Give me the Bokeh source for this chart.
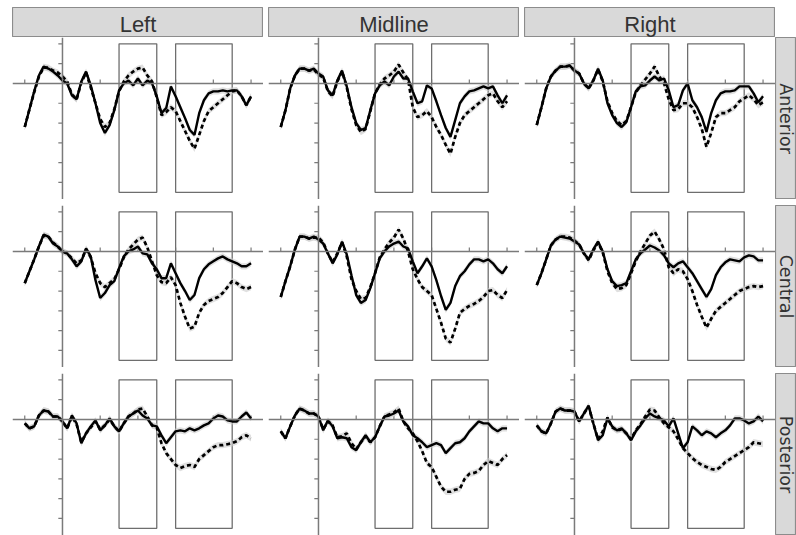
import numpy as np
from bokeh.plotting import figure
from bokeh.layouts import row, column, Spacer
from bokeh.models import Span, Range1d
from bokeh.core.properties import value
from bokeh.embed import file_html
from bokeh.resources import INLINE

# ---------------- data ----------------
times = list(range(-200, 1001, 25))          # ms, 49 samples
column_labels = ["Left", "Midline", "Right"]
row_labels = ["Anterior", "Central", "Posterior"]
x_ticks = [-200, 200, 400, 600, 800, 1000]
y_ticks = [2, 1, -1, -2, -3, -4, -5]
window_start = [300, 600]
window_end = [500, 900]
window_top = [2.0, 2.0]
window_bottom = [-5.5, -5.5]
band_halfwidth = 0.16

left_anterior_solid = [-2.2, -1.3, -0.4, 0.4, 0.85, 0.75, 0.6, 0.4, 0.15, 0.0,
                       -0.6, -0.8, 0.1, 0.6, -0.1, -1.0, -2.0, -2.5, -2.1, -1.35,
                       -0.35, 0.0, 0.15, -0.1, 0.25, -0.1, 0.15, 0.0, -0.65, -1.5,
                       -1.25, -0.15, -0.65, -1.2, -1.75, -2.35, -2.6, -1.5, -0.85, -0.5,
                       -0.4, -0.4, -0.35, -0.4, -0.35, -0.35, -0.65, -1.1, -0.65]
left_anterior_dashed = [-2.2, -1.3, -0.45, 0.35, 0.8, 0.8, 0.65, 0.55, 0.35, 0.1,
                        -0.55, -0.8, 0.05, 0.55, -0.2, -1.0, -1.8, -2.2, -2.0, -1.3,
                        -0.4, 0.1, 0.4, 0.6, 0.75, 0.8, 0.4, 0.1, -0.7, -1.6,
                        -1.45, -1.2, -1.4, -1.9, -2.4, -2.9, -3.3, -2.6, -1.9, -1.4,
                        -1.2, -1.0, -0.8, -0.6, -0.4, -0.35, -0.65, -1.1, -0.65]

midline_anterior_solid = [-2.2, -1.35, -0.25, 0.4, 0.75, 0.75, 0.65, 0.75, 0.5, 0.35,
                          -0.35, -0.6, 0.15, 0.65, -0.15, -1.2, -2.0, -2.35, -2.25, -1.35,
                          -0.5, -0.1, 0.1, -0.1, 0.35, 0.6, 0.25, 0.25, -0.4, -1.0,
                          -0.9, -0.1, -0.25, -0.9, -1.6, -2.25, -2.7, -1.85, -1.0, -0.65,
                          -0.4, -0.35, -0.25, -0.15, -0.25, -0.15, -0.6, -1.0, -0.6]
midline_anterior_dashed = [-2.2, -1.35, -0.25, 0.4, 0.75, 0.75, 0.65, 0.7, 0.45, 0.3,
                           -0.4, -0.65, 0.1, 0.6, -0.2, -1.3, -2.1, -2.45, -2.3, -1.4,
                           -0.5, -0.05, 0.25, 0.4, 0.6, 0.95, 0.55, 0.2, -1.2, -1.7,
                           -1.6, -1.4, -1.7, -2.2, -2.6, -3.1, -3.55, -2.7, -2.0, -1.6,
                           -1.4, -1.2, -1.0, -0.8, -0.6, -0.5, -0.9, -1.2, -0.9]

right_anterior_solid = [-2.1, -1.2, -0.25, 0.35, 0.65, 0.85, 0.85, 0.9, 0.65, 0.5,
                        0.0, -0.25, 0.15, 0.75, 0.15, -1.0, -1.6, -2.0, -2.2, -1.95,
                        -1.2, -0.4, -0.15, -0.1, 0.15, 0.35, 0.15, 0.25, -0.35, -1.2,
                        -1.1, -0.35, 0.0, -0.85, -1.2, -1.7, -2.45, -1.5, -0.85, -0.5,
                        -0.4, -0.4, -0.35, -0.15, -0.15, -0.15, -0.5, -0.95, -0.65]
right_anterior_dashed = [-2.1, -1.2, -0.25, 0.35, 0.65, 0.85, 0.85, 0.9, 0.65, 0.5,
                         0.0, -0.25, 0.15, 0.7, 0.1, -0.9, -1.5, -1.9, -2.1, -1.9,
                         -1.2, -0.45, -0.1, 0.2, 0.5, 0.85, 0.35, 0.0, -0.8, -1.35,
                         -1.3, -1.0, -1.0, -1.2, -1.7, -2.3, -3.2, -2.5, -1.7, -1.5,
                         -1.5, -1.35, -1.2, -0.9, -0.75, -0.6, -0.8, -1.1, -0.95]

left_central_solid = [-1.6, -1.0, -0.4, 0.25, 0.85, 0.75, 0.4, 0.25, 0.0, -0.1,
                      -0.4, -0.75, -0.5, 0.15, -0.25, -1.45, -2.35, -2.1, -1.7, -1.5,
                      -0.85, -0.25, 0.0, 0.1, 0.25, -0.1, -0.15, -0.6, -0.9, -1.35,
                      -1.35, -0.6, -1.1, -1.6, -2.0, -2.45, -2.2, -1.35, -0.9, -0.65,
                      -0.5, -0.35, -0.25, -0.4, -0.5, -0.6, -0.75, -0.75, -0.6]
left_central_dashed = [-1.6, -1.0, -0.4, 0.25, 0.8, 0.75, 0.45, 0.25, 0.0, -0.1,
                       -0.35, -0.6, -0.45, 0.1, -0.3, -1.1, -1.6, -1.8, -1.6, -1.4,
                       -0.9, -0.3, 0.1, 0.35, 0.6, 0.7, 0.2, -0.5, -1.2, -1.55,
                       -1.6, -1.3, -1.7, -2.6, -3.3, -3.9, -3.8, -3.1, -2.7, -2.5,
                       -2.4, -2.3, -2.1, -1.8, -1.5, -1.6, -1.8, -1.9, -1.8]

midline_central_solid = [-2.3, -1.5, -0.75, 0.1, 0.75, 0.75, 0.65, 0.75, 0.6, 0.4,
                         -0.1, -0.6, -0.15, 0.5, -0.15, -1.2, -2.2, -2.6, -2.45, -1.85,
                         -1.1, -0.35, 0.0, 0.25, 0.4, 0.5, 0.25, 0.15, -0.5, -1.1,
                         -0.75, -0.35, -0.75, -1.45, -2.25, -2.95, -2.6, -1.75, -1.25, -1.0,
                         -0.65, -0.4, -0.4, -0.5, -0.4, -0.6, -0.9, -1.1, -0.75]
midline_central_dashed = [-2.3, -1.5, -0.75, 0.1, 0.75, 0.75, 0.65, 0.7, 0.7, 0.45,
                          -0.1, -0.55, -0.1, 0.45, -0.25, -1.4, -2.0, -2.4, -2.35, -1.8,
                          -1.1, -0.3, 0.1, 0.45, 0.7, 1.1, 0.65, 0.0, -0.9, -1.4,
                          -1.8, -2.0, -2.2, -2.9, -3.6, -4.4, -4.6, -3.9, -3.1, -2.9,
                          -2.75, -2.65, -2.5, -2.3, -2.0, -1.95, -2.2, -2.35, -1.95]

right_central_solid = [-1.7, -1.1, -0.4, 0.3, 0.6, 0.75, 0.7, 0.65, 0.5, 0.35,
                       -0.1, -0.4, 0.1, 0.5, 0.0, -0.9, -1.5, -1.75, -1.7, -1.6,
                       -1.0, -0.4, -0.1, 0.1, 0.3, 0.2, 0.05, -0.2, -0.6, -0.8,
                       -0.6, -0.5, -0.8, -1.1, -1.5, -1.9, -2.3, -1.9, -1.2, -0.8,
                       -0.55, -0.4, -0.45, -0.5, -0.3, -0.2, -0.25, -0.45, -0.45]
right_central_dashed = [-1.7, -1.1, -0.4, 0.3, 0.6, 0.75, 0.75, 0.7, 0.55, 0.35,
                        -0.1, -0.45, 0.05, 0.45, -0.05, -1.0, -1.6, -1.9, -1.85, -1.7,
                        -1.1, -0.5, 0.0, 0.4, 0.8, 1.0, 0.6, 0.1, -0.8, -1.1,
                        -0.9, -1.0, -1.4, -2.0, -2.7, -3.3, -3.85, -3.4, -3.0, -2.8,
                        -2.6, -2.4, -2.2, -2.0, -1.9, -1.8, -1.75, -1.8, -1.75]

left_posterior_solid = [-0.2, -0.45, -0.35, 0.2, 0.45, 0.4, 0.15, 0.15, -0.1, -0.45,
                        0.2, -0.2, -1.2, -0.7, -0.35, -0.05, -0.55, -0.3, 0.05, -0.35,
                        -0.6, -0.2, 0.15, 0.3, 0.45, 0.2, 0.05, -0.3, -0.35, -0.8,
                        -1.2, -0.9, -0.6, -0.55, -0.6, -0.45, -0.55, -0.45, -0.3, -0.2,
                        0.05, 0.2, 0.15, -0.05, -0.1, -0.1, 0.15, 0.35, 0.05]
left_posterior_dashed = [-0.2, -0.45, -0.35, 0.2, 0.45, 0.4, 0.15, 0.15, -0.1, -0.45,
                         0.15, -0.25, -1.15, -0.7, -0.4, -0.1, -0.5, -0.3, 0.0, -0.35,
                         -0.6, -0.2, 0.15, 0.3, 0.5, 0.55, 0.15, -0.3, -0.4, -1.2,
                         -1.7, -2.0, -2.3, -2.45, -2.35, -2.3, -2.4, -2.0, -1.8, -1.6,
                         -1.4, -1.3, -1.3, -1.25, -1.2, -1.1, -0.9, -0.8, -0.95]

midline_posterior_solid = [-0.6, -0.95, -0.35, 0.2, 0.55, 0.45, 0.3, 0.3, 0.15, -0.55,
                           -0.05, -0.35, -0.95, -0.9, -0.95, -1.4, -1.55, -1.15, -0.8, -1.15,
                           -0.9, -0.35, 0.15, 0.2, 0.3, 0.45, -0.1, -0.35, -0.8, -0.95,
                           -1.15, -1.4, -1.3, -1.2, -1.3, -1.7, -1.45, -1.2, -1.15, -0.95,
                           -0.6, -0.35, -0.1, -0.2, -0.2, -0.45, -0.6, -0.45, -0.45]
midline_posterior_dashed = [-0.6, -0.95, -0.35, 0.2, 0.55, 0.45, 0.3, 0.3, 0.15, -0.5,
                            -0.1, -0.3, -0.9, -0.85, -0.7, -1.2, -1.5, -1.15, -0.85, -1.15,
                            -0.9, -0.35, 0.15, 0.25, 0.35, 0.55, -0.1, -0.45, -0.7, -1.1,
                            -1.6, -2.2, -2.4, -2.9, -3.4, -3.65, -3.65, -3.55, -3.5, -3.0,
                            -2.75, -2.7, -2.6, -2.3, -2.1, -2.2, -2.3, -2.0, -1.8]

right_posterior_solid = [-0.3, -0.6, -0.7, -0.2, 0.4, 0.55, 0.45, 0.45, 0.4, -0.1,
                         0.3, 0.7, -0.2, -1.05, -0.8, 0.05, -0.35, -0.55, -0.45, -0.7,
                         -1.05, -0.6, -0.3, 0.05, 0.3, 0.15, 0.05, -0.05, -0.35, 0.05,
                         -0.7, -1.45, -1.15, -0.35, -0.55, -0.8, -0.6, -0.7, -0.9, -0.7,
                         -0.55, -0.3, 0.05, 0.05, -0.05, -0.2, -0.1, 0.15, -0.1]
right_posterior_dashed = [-0.3, -0.6, -0.7, -0.2, 0.4, 0.55, 0.45, 0.45, 0.4, -0.1,
                          0.3, 0.65, -0.2, -1.0, -0.6, 0.1, -0.4, -0.55, -0.5, -0.7,
                          -1.0, -0.55, -0.25, 0.15, 0.5, 0.45, 0.1, -0.2, -0.4, -0.6,
                          -1.0, -1.45, -1.7, -1.95, -2.15, -2.3, -2.4, -2.5, -2.55, -2.4,
                          -2.15, -2.0, -1.85, -1.7, -1.55, -1.4, -1.15, -1.2, -1.25]

series = {
    ("Anterior", "Left"): (left_anterior_solid, left_anterior_dashed),
    ("Anterior", "Midline"): (midline_anterior_solid, midline_anterior_dashed),
    ("Anterior", "Right"): (right_anterior_solid, right_anterior_dashed),
    ("Central", "Left"): (left_central_solid, left_central_dashed),
    ("Central", "Midline"): (midline_central_solid, midline_central_dashed),
    ("Central", "Right"): (right_central_solid, right_central_dashed),
    ("Posterior", "Left"): (left_posterior_solid, left_posterior_dashed),
    ("Posterior", "Midline"): (midline_posterior_solid, midline_posterior_dashed),
    ("Posterior", "Right"): (right_posterior_solid, right_posterior_dashed),
}

# ---------------- styling ----------------
PANEL_W, PANEL_H = 251, 162
STRIP_W = 21
LEFT_PAD = 12
AXIS_COLOR = "#7a7a7a"
BOX_COLOR = "#6e6e6e"
STRIP_FILL = "#d9d9d9"
STRIP_LINE = "#8c8c8c"
TEXT_COLOR = "#333333"


def base_fig(w, h, xr, yr, **kw):
    p = figure(width=w, height=h, x_range=xr, y_range=yr,
               output_backend="svg", toolbar_location=None,
               x_axis_type=None, y_axis_type=None, min_border=0, **kw)
    p.grid.visible = False
    return p


def panel(solid, dashed):
    p = base_fig(PANEL_W, PANEL_H, Range1d(-265, 1066), Range1d(-5.86, 2.32),
                 outline_line_color=None, background_fill_color="white")
    p.add_layout(Span(location=0, dimension="width", line_color=AXIS_COLOR, line_width=1.5))
    p.add_layout(Span(location=0, dimension="height", line_color=AXIS_COLOR, line_width=1.5))
    p.segment(x0=x_ticks, y0=[0] * len(x_ticks), x1=x_ticks, y1=[0.2] * len(x_ticks),
              line_color=AXIS_COLOR, line_width=1.2)
    p.segment(x0=[0] * len(y_ticks), y0=y_ticks, x1=[-22] * len(y_ticks), y1=y_ticks,
              line_color=AXIS_COLOR, line_width=1.2)
    p.quad(left=window_start, right=window_end, top=window_top, bottom=window_bottom,
           fill_color=None, line_color=BOX_COLOR, line_width=1.3)
    s = np.array(solid)
    d = np.array(dashed)
    p.varea(x=times, y1=d - band_halfwidth, y2=d + band_halfwidth,
            fill_color="#cccccc", fill_alpha=0.6)
    p.varea(x=times, y1=s - band_halfwidth, y2=s + band_halfwidth,
            fill_color="#cccccc", fill_alpha=0.6)
    p.line(times, dashed, line_color="black", line_width=2.7, line_dash="4 3")
    p.line(times, solid, line_color="black", line_width=2.4)
    return p


def col_strip(label):
    p = base_fig(PANEL_W, 30, Range1d(0, 1), Range1d(0, 1),
                 background_fill_color=STRIP_FILL, outline_line_color=STRIP_LINE,
                 outline_line_width=1.2)
    p.text(x=[0.5], y=[0.45], text=[label], text_align="center", text_baseline="middle",
           text_font=value("Liberation Sans"), text_font_size="22px", text_color=TEXT_COLOR)
    return p


def row_strip(label):
    p = base_fig(STRIP_W, PANEL_H, Range1d(0, 1), Range1d(0, 1),
                 background_fill_color=STRIP_FILL, outline_line_color=STRIP_LINE,
                 outline_line_width=1.2)
    p.text(x=[0.5], y=[0.5], text=[label], angle=-np.pi / 2,
           text_align="center", text_baseline="middle",
           text_font=value("DejaVu Sans"), text_font_size="17.5px", text_color=TEXT_COLOR)
    return p


header = row(Spacer(width=LEFT_PAD, height=30),
             col_strip(column_labels[0]), Spacer(width=5, height=30),
             col_strip(column_labels[1]), Spacer(width=5, height=30),
             col_strip(column_labels[2]), spacing=0)

grid_rows = []
for i, rl in enumerate(row_labels):
    if i > 0:
        grid_rows.append(Spacer(width=796, height=6))
    panels = [panel(*series[(rl, cl)]) for cl in column_labels]
    grid_rows.append(row(Spacer(width=LEFT_PAD, height=PANEL_H),
                         panels[0], Spacer(width=5, height=PANEL_H),
                         panels[1], Spacer(width=5, height=PANEL_H),
                         panels[2], row_strip(rl), spacing=0))

layout = column(Spacer(width=796, height=7), header, *grid_rows, spacing=0)

open("out.html", "w").write(file_html(layout, INLINE))
